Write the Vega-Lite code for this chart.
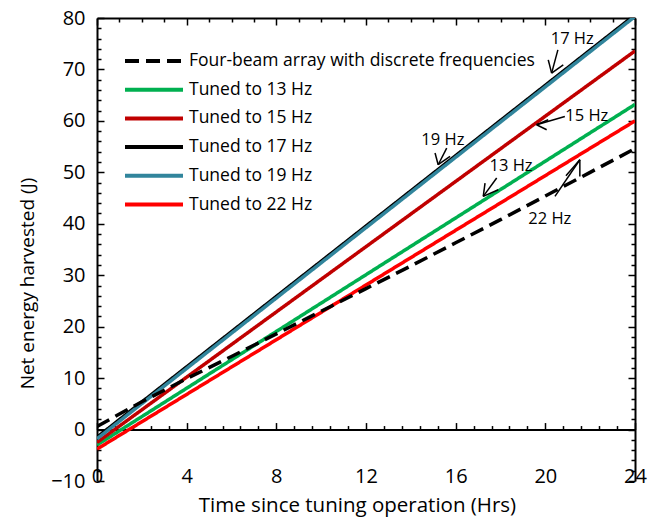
{
  "$schema": "https://vega.github.io/schema/vega-lite/v6.json",
  "width": 538,
  "height": 463,
  "autosize": "none",
  "padding": {"left": 97, "top": 18, "right": 22, "bottom": 36},
  "background": "white",
  "config": {
    "view": {"stroke": null},
    "font": "Open Sans",
    "axis": {"grid": false, "domainColor": "black", "tickColor": "black", "labelColor": "black", "titleColor": "black", "titleFontWeight": "normal", "labelFont": "Open Sans", "titleFont": "Open Sans"}
  },
  "datasets": {
    "series": [
      {"series": "Tuned to 13 Hz", "t": 0, "e": -3.0},
      {"series": "Tuned to 13 Hz", "t": 24, "e": 63.2},
      {"series": "Tuned to 15 Hz", "t": 0, "e": -2.5},
      {"series": "Tuned to 15 Hz", "t": 24, "e": 73.6},
      {"series": "Tuned to 17 Hz", "t": 0, "e": -1.5},
      {"series": "Tuned to 17 Hz", "t": 24, "e": 80.6},
      {"series": "Tuned to 19 Hz", "t": 0, "e": -1.8},
      {"series": "Tuned to 19 Hz", "t": 24, "e": 80.3},
      {"series": "Tuned to 22 Hz", "t": 0, "e": -3.8},
      {"series": "Tuned to 22 Hz", "t": 24, "e": 60.0},
      {"series": "Four-beam array with discrete frequencies", "t": 0, "e": 0.6},
      {"series": "Four-beam array with discrete frequencies", "t": 2, "e": 5.4},
      {"series": "Four-beam array with discrete frequencies", "t": 4, "e": 9.9},
      {"series": "Four-beam array with discrete frequencies", "t": 6, "e": 14.2},
      {"series": "Four-beam array with discrete frequencies", "t": 8, "e": 18.6},
      {"series": "Four-beam array with discrete frequencies", "t": 10, "e": 23.0},
      {"series": "Four-beam array with discrete frequencies", "t": 12, "e": 27.4},
      {"series": "Four-beam array with discrete frequencies", "t": 14, "e": 31.8},
      {"series": "Four-beam array with discrete frequencies", "t": 16, "e": 36.3},
      {"series": "Four-beam array with discrete frequencies", "t": 18, "e": 40.8},
      {"series": "Four-beam array with discrete frequencies", "t": 20, "e": 45.4},
      {"series": "Four-beam array with discrete frequencies", "t": 22, "e": 50.0},
      {"series": "Four-beam array with discrete frequencies", "t": 24, "e": 54.6}
    ],
    "arrows": [
      {"x1": 20.56, "y1": 73.81, "x2": 20.28, "y2": 69.29},
      {"x1": 20.13, "y1": 71.87, "x2": 20.28, "y2": 69.29},
      {"x1": 20.80, "y1": 70.90, "x2": 20.28, "y2": 69.29},
      {"x1": 15.60, "y1": 54.72, "x2": 15.22, "y2": 51.48},
      {"x1": 15.08, "y1": 53.75, "x2": 15.22, "y2": 51.48},
      {"x1": 15.75, "y1": 53.09, "x2": 15.22, "y2": 51.48},
      {"x1": 20.87, "y1": 60.86, "x2": 19.61, "y2": 59.25},
      {"x1": 20.13, "y1": 60.22, "x2": 19.61, "y2": 59.25},
      {"x1": 20.06, "y1": 58.28, "x2": 19.61, "y2": 59.25},
      {"x1": 17.83, "y1": 48.89, "x2": 17.23, "y2": 45.32},
      {"x1": 17.31, "y1": 47.92, "x2": 17.23, "y2": 45.32},
      {"x1": 17.90, "y1": 46.62, "x2": 17.23, "y2": 45.32},
      {"x1": 20.43, "y1": 45.32, "x2": 21.54, "y2": 52.45},
      {"x1": 21.54, "y1": 49.20, "x2": 21.54, "y2": 52.45},
      {"x1": 20.92, "y1": 49.34, "x2": 21.54, "y2": 52.45}
    ],
    "notes": [
      {"label": "17 Hz", "tx": 21.2, "ty": 76.0},
      {"label": "19 Hz", "tx": 15.43, "ty": 56.3},
      {"label": "15 Hz", "tx": 21.85, "ty": 61.0},
      {"label": "13 Hz", "tx": 18.47, "ty": 51.3},
      {"label": "22 Hz", "tx": 20.2, "ty": 41.0}
    ]
  },
  "layer": [
    {
      "data": {"name": "series"},
      "mark": {"type": "line", "strokeWidth": 3.5, "clip": true},
      "encoding": {
        "x": {"field": "t", "type": "quantitative", "scale": {"domain": [0, 24], "nice": false, "zero": false},
          "axis": {"orient": "bottom", "domain": false, "ticks": false, "values": [0, 4, 8, 12, 16, 20, 24], "labelFontSize": 20, "labelPadding": -15, "labelFlush": false, "labelOverlap": false, "title": "Time since tuning operation (Hrs)", "titleFontSize": 20.5, "titleX": 260, "titleY": 14}},
        "y": {"field": "e", "type": "quantitative", "scale": {"domain": [-10, 80], "nice": false, "zero": false},
          "axis": {"orient": "left", "domain": true, "domainWidth": 2, "ticks": false, "values": [-10, 0, 10, 20, 30, 40, 50, 60, 70, 80], "labelFontSize": 20, "labelPadding": 12, "labelFlush": false, "labelOverlap": false, "title": "Net energy harvested (J)", "titleFontSize": 19, "titleX": -60, "titleY": 265}},
        "color": {"field": "series", "type": "nominal",
          "scale": {"domain": ["Four-beam array with discrete frequencies", "Tuned to 13 Hz", "Tuned to 15 Hz", "Tuned to 17 Hz", "Tuned to 19 Hz", "Tuned to 22 Hz"], "range": ["#000000", "#00B050", "#C00000", "#000000", "#31859C", "#FF0000"]},
          "legend": {"orient": "none", "legendX": 45, "legendY": 31, "title": null, "symbolType": "M-2.9,0H2.9", "symbolSize": 400, "symbolStrokeWidth": 4, "labelFontSize": 17.5, "labelLimit": 600, "rowPadding": 7.7, "symbolOffset": 0, "labelOffset": 23, "padding": 0}},
        "strokeDash": {"field": "series", "type": "nominal",
          "scale": {"domain": ["Four-beam array with discrete frequencies", "Tuned to 13 Hz", "Tuned to 15 Hz", "Tuned to 17 Hz", "Tuned to 19 Hz", "Tuned to 22 Hz"], "range": [[14, 7], [1, 0], [1, 0], [1, 0], [1, 0], [1, 0]]},
          "legend": {"orient": "none", "legendX": 45, "legendY": 31, "title": null, "symbolType": "M-2.9,0H2.9", "symbolSize": 400, "symbolStrokeWidth": 4, "labelFontSize": 17.5, "labelLimit": 600, "rowPadding": 7.7, "symbolOffset": 0, "labelOffset": 23, "padding": 0}}
      }
    },
    {
      "data": {"name": "arrows"},
      "mark": {"type": "rule", "color": "black", "strokeWidth": 1.5},
      "encoding": {
        "x": {"field": "x1", "type": "quantitative", "scale": {"domain": [0, 24], "nice": false, "zero": false},
          "axis": {"orient": "bottom", "offset": {"expr": "-height/9"}, "domain": true, "domainWidth": 2, "ticks": true, "tickSize": -7, "tickWidth": 1.5, "values": [0, 4, 8, 12, 16, 20, 24], "labels": false, "title": null}},
        "x2": {"field": "x2"},
        "y": {"field": "y1", "type": "quantitative", "scale": {"domain": [-10, 80], "nice": false, "zero": false},
          "axis": {"orient": "left", "domain": false, "ticks": true, "tickSize": -7, "tickWidth": 1.5, "values": [-10, 0, 10, 20, 30, 40, 50, 60, 70, 80], "labels": false, "title": null}},
        "y2": {"field": "y2"}
      }
    },
    {
      "data": {"name": "notes"},
      "mark": {"type": "text", "fontSize": 16.5, "font": "Open Sans", "color": "black", "align": "center", "baseline": "middle"},
      "encoding": {
        "x": {"field": "tx", "type": "quantitative", "scale": {"domain": [0, 24], "nice": false, "zero": false},
          "axis": {"orient": "bottom", "offset": {"expr": "-height/9"}, "domain": false, "ticks": true, "tickSize": -4, "tickWidth": 1.5, "values": [0.8, 1.6, 2.4, 3.2, 4.8, 5.6, 6.4, 7.2, 8.8, 9.6, 10.4, 11.2, 12.8, 13.6, 14.4, 15.2, 16.8, 17.6, 18.4, 19.2, 20.8, 21.6, 22.4, 23.2], "labels": false, "title": null}},
        "y": {"field": "ty", "type": "quantitative", "scale": {"domain": [-10, 80], "nice": false, "zero": false},
          "axis": {"orient": "left", "domain": false, "ticks": true, "tickSize": -4, "tickWidth": 1.5, "values": [-8, -6, -4, -2, 2, 4, 6, 8, 12, 14, 16, 18, 22, 24, 26, 28, 32, 34, 36, 38, 42, 44, 46, 48, 52, 54, 56, 58, 62, 64, 66, 68, 72, 74, 76, 78], "labels": false, "title": null}},
        "text": {"field": "label", "type": "nominal"}
      }
    },
    {
      "data": {"name": "notes"},
      "mark": {"type": "point", "opacity": 0},
      "encoding": {
        "x": {"field": "tx", "type": "quantitative", "scale": {"domain": [0, 24], "nice": false, "zero": false},
          "axis": {"orient": "top", "domain": true, "domainWidth": 2, "ticks": true, "tickSize": -7, "tickWidth": 1.5, "values": [0, 4, 8, 12, 16, 20, 24], "labels": false, "title": null}},
        "y": {"field": "ty", "type": "quantitative", "scale": {"domain": [-10, 80], "nice": false, "zero": false},
          "axis": {"orient": "right", "domain": true, "domainWidth": 2, "ticks": true, "tickSize": -7, "tickWidth": 1.5, "values": [-10, 0, 10, 20, 30, 40, 50, 60, 70, 80], "labels": false, "title": null}}
      }
    },
    {
      "data": {"name": "notes"},
      "mark": {"type": "point", "opacity": 0},
      "encoding": {
        "x": {"field": "tx", "type": "quantitative", "scale": {"domain": [0, 24], "nice": false, "zero": false},
          "axis": {"orient": "top", "domain": false, "ticks": true, "tickSize": -4, "tickWidth": 1.5, "values": [1, 2, 3, 5, 6, 7, 9, 10, 11, 13, 14, 15, 17, 18, 19, 21, 22, 23], "labels": false, "title": null}},
        "y": {"field": "ty", "type": "quantitative", "scale": {"domain": [-10, 80], "nice": false, "zero": false},
          "axis": {"orient": "right", "domain": false, "ticks": true, "tickSize": -4, "tickWidth": 1.5, "values": [-8, -6, -4, -2, 2, 4, 6, 8, 12, 14, 16, 18, 22, 24, 26, 28, 32, 34, 36, 38, 42, 44, 46, 48, 52, 54, 56, 58, 62, 64, 66, 68, 72, 74, 76, 78], "labels": false, "title": null}}
      }
    }
  ],
  "resolve": {"axis": {"x": "independent", "y": "independent"}}
}
